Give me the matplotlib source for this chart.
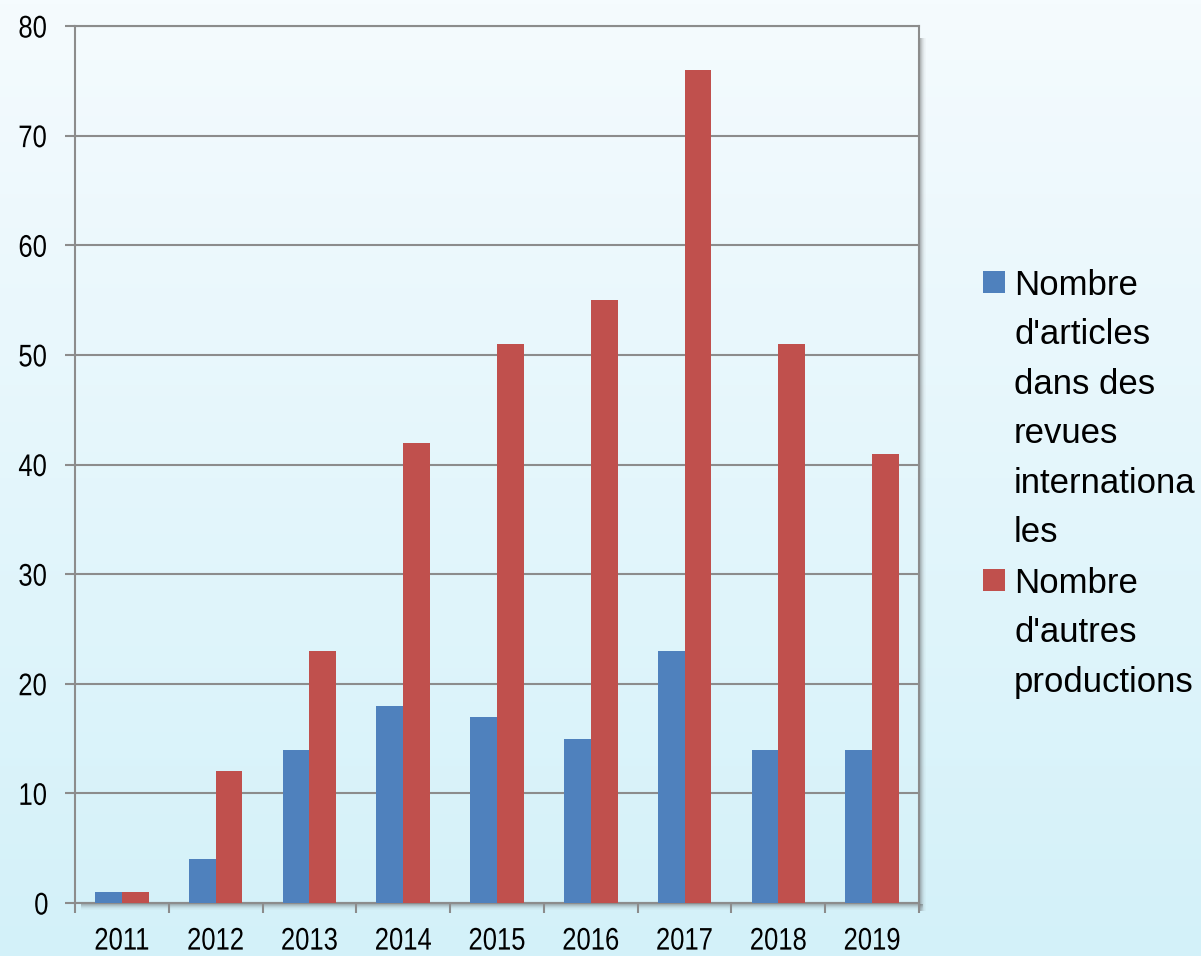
"""
Bar chart: publications per year (articles in international journals vs other productions)
"""

import numpy as np
import matplotlib
matplotlib.use('Agg')
import matplotlib.pyplot as plt
from matplotlib import patheffects
from matplotlib.patches import Rectangle
from matplotlib.transforms import Affine2D
from matplotlib.colors import LinearSegmentedColormap

years = ['2011', '2012', '2013', '2014', '2015', '2016', '2017', '2018', '2019']
articles = [1, 4, 14, 18, 17, 15, 23, 14, 14]
autres = [1, 12, 23, 42, 51, 55, 76, 51, 41]
series_labels = ["Nombre\nd'articles\ndans des\nrevues\ninternationa\nles",
                 "Nombre\nd'autres\nproductions"]
series_colors = ['#4f81bd', '#c0504d']
y_ticks = [0, 10, 20, 30, 40, 50, 60, 70, 80]

W, H = 1201, 956
GRID = '#8c8c8c'


class Narrow(patheffects.AbstractPathEffect):
    """Squeeze text horizontally around its centre (no narrow font installed)."""

    def __init__(self, sx=0.82):
        super().__init__()
        self.sx = sx

    def draw_path(self, renderer, gc, tpath, affine, rgbFace=None):
        ext = tpath.get_extents()
        cx = (ext.x0 + ext.x1) / 2
        squeeze = Affine2D().translate(-cx, 0).scale(self.sx, 1).translate(cx, 0)
        renderer.draw_path(gc, tpath, squeeze + affine, rgbFace)


fig = plt.figure(figsize=(W / 100, H / 100), dpi=100)

# background gradient
bg = fig.add_axes([0, 0, 1, 1], zorder=-10)
cmap = LinearSegmentedColormap.from_list('bg', ['#d3f1f9', '#f5fbfe'])
bg.imshow(np.linspace(0, 1, 256).reshape(-1, 1), aspect='auto', cmap=cmap,
          origin='lower', extent=[0, 1, 0, 1])
bg.set_axis_off()

left, right, top, bottom = 75, 919, 26, 903
ax = fig.add_axes([left / W, 1 - bottom / H, (right - left) / W, (bottom - top) / H])
ax.patch.set_alpha(0)

# soft shadow on the right and bottom of the plot frame
for i, a in enumerate([0.4, 0.3, 0.2, 0.12, 0.06, 0.03]):
    fig.patches.append(Rectangle(((right + 1 + i) / W, (H - bottom - 8) / H), 1.2 / W,
                                 (bottom - top - 4) / H, transform=fig.transFigure,
                                 color='#555555', alpha=a, lw=0, zorder=-5))
    fig.patches.append(Rectangle(((left + 6) / W, (H - bottom - 2 - i) / H),
                                 (right - left - 2) / W, 1.2 / H,
                                 transform=fig.transFigure,
                                 color='#555555', alpha=a, lw=0, zorder=-5))

x = np.arange(len(years))
w = 0.285
ax.bar(x - w / 2, articles, w, color=series_colors[0], zorder=3)
ax.bar(x + w / 2, autres, w, color=series_colors[1], zorder=3)

ax.set_xlim(-0.5, len(years) - 0.5)
ax.set_ylim(0, 80)
ax.set_yticks(y_ticks)
ax.yaxis.grid(True, color=GRID, lw=1.5, zorder=1)
ax.set_axisbelow(True)

ax.set_xticks(x)
ax.set_xticklabels(years)
ax.set_xticks(np.arange(len(years) + 1) - 0.5, minor=True)

tick_font = ['Liberation Sans Narrow', 'Liberation Sans', 'DejaVu Sans']
for lab in ax.get_xticklabels() + ax.get_yticklabels():
    lab.set_family(tick_font)
    lab.set_fontsize(22.5)
    lab.set_path_effects([Narrow(0.82)])

ax.tick_params(axis='x', which='major', length=0, pad=17)
ax.tick_params(axis='x', which='minor', length=7, width=1.5, color=GRID, direction='out')
ax.tick_params(axis='y', length=7, width=1.5, color=GRID, pad=11)

for s in ax.spines.values():
    s.set_color(GRID)
    s.set_linewidth(1.5)

# legend on the right
legend_font = ['Liberation Sans', 'DejaVu Sans']
line_tops = [269, 567]
for lbl, col, ytop in zip(series_labels, series_colors, line_tops):
    fig.patches.append(Rectangle((983 / W, 1 - (ytop + 24) / H), 22 / W, 22 / H,
                                 transform=fig.transFigure, color=col, lw=0))
    fig.text(1014 / W, 1 - ytop / H, lbl, family=legend_font, fontsize=25,
             va='top', ha='left', linespacing=1.63)

fig.savefig('out.png', dpi=100)
